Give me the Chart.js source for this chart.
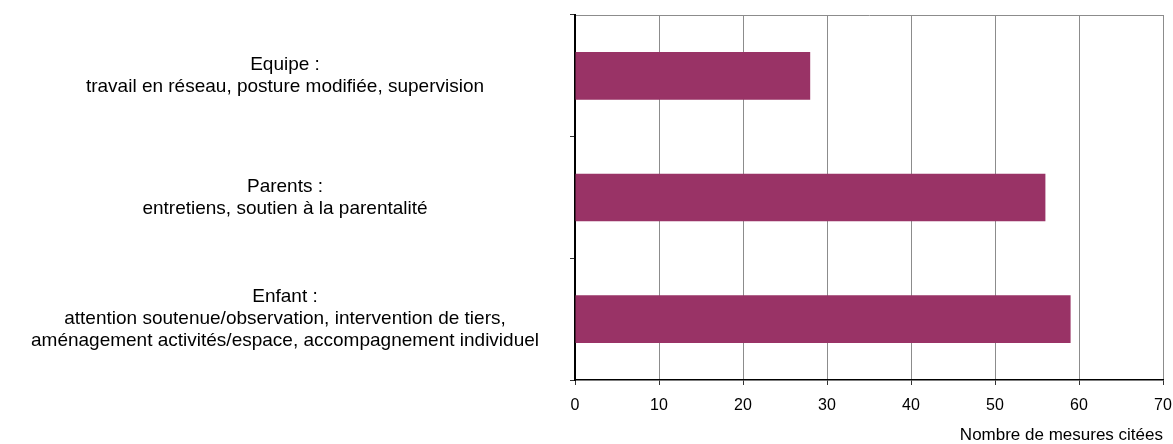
<!DOCTYPE html>
<html>
<head>
<meta charset="utf-8">
<script src="https://cdn.jsdelivr.net/npm/chart.js@4/dist/chart.umd.min.js"></script>
<style>
  html, body { margin: 0; padding: 0; background: #ffffff; }
  #wrap { width: 1173px; height: 444px; position: relative; }
</style>
</head>
<body>
<div id="wrap"><canvas id="c"></canvas></div>
<script>
const categories = [
  ["Equipe :", "travail en réseau, posture modifiée, supervision"],
  ["Parents :", "entretiens, soutien à la parentalité"],
  ["Enfant :", "attention soutenue/observation, intervention de tiers,", "aménagement activités/espace, accompagnement individuel"]
];
const values = [28, 56, 59];
const xMin = 0;
const xMax = 70;
const xStep = 10;
const xTitle = "Nombre de mesures citées";

const FONT = "'Liberation Sans', Arial, sans-serif";
const labelSize = 19;

// measure the widest label line so the centred label block sits where the reference has it
const mctx = document.createElement('canvas').getContext('2d');
mctx.font = labelSize + "px " + FONT;
let widest = 0;
categories.forEach(c => c.forEach(l => { widest = Math.max(widest, mctx.measureText(l).width); }));
const axisW = 575;
const labelCentre = 285;
const tickLen = 5;
const yPad = Math.max(2, axisW - tickLen - labelCentre - widest / 2);

new Chart(document.getElementById('c'), {
  type: 'bar',
  data: {
    labels: categories,
    datasets: [{
      data: values,
      backgroundColor: '#993366',
      borderWidth: 0,
      categoryPercentage: 0.8,
      barPercentage: 0.49
    }]
  },
  options: {
    indexAxis: 'y',
    responsive: true,
    maintainAspectRatio: false,
    animation: false,
    layout: { padding: { top: 15, right: 10, bottom: 0, left: 0 } },
    plugins: { legend: { display: false }, tooltip: { enabled: false } },
    scales: {
      x: {
        type: 'linear',
        position: 'bottom',
        min: xMin, max: xMax,
        ticks: { stepSize: xStep, color: '#000', padding: 11, font: { family: FONT, size: 16 } },
        grid: { color: '#8c8c8c', lineWidth: 1, tickLength: 5, tickColor: '#333' },
        border: { color: '#000', width: 1.5 },
        title: { display: true, text: xTitle, align: 'end', color: '#000',
                 font: { family: FONT, size: 17, lineHeight: 1 }, padding: { top: 4, bottom: 0 } },
        afterFit: s => { s.height = 64; s.paddingLeft = 0; s.paddingRight = 0; }
      },
      x2: {
        type: 'linear',
        axis: 'x',
        position: 'top',
        min: xMin, max: xMax,
        ticks: { display: false },
        grid: { drawOnChartArea: false, drawTicks: false },
        border: { color: '#8c8c8c', width: 1 },
        afterFit: s => { s.height = 0; s.paddingLeft = 0; s.paddingRight = 0; }
      },
      y: {
        type: 'category',
        position: 'left',
        offset: true,
        ticks: { crossAlign: 'center', color: '#000', padding: yPad,
                 font: { family: FONT, size: labelSize, lineHeight: 22 / labelSize } },
        grid: { drawOnChartArea: false, offset: true, tickLength: tickLen, tickColor: '#333', color: '#333' },
        border: { color: '#000', width: 2 },
        afterFit: s => { s.width = axisW; s.paddingTop = 0; s.paddingBottom = 0; }
      }
    }
  }
});
</script>
</body>
</html>
